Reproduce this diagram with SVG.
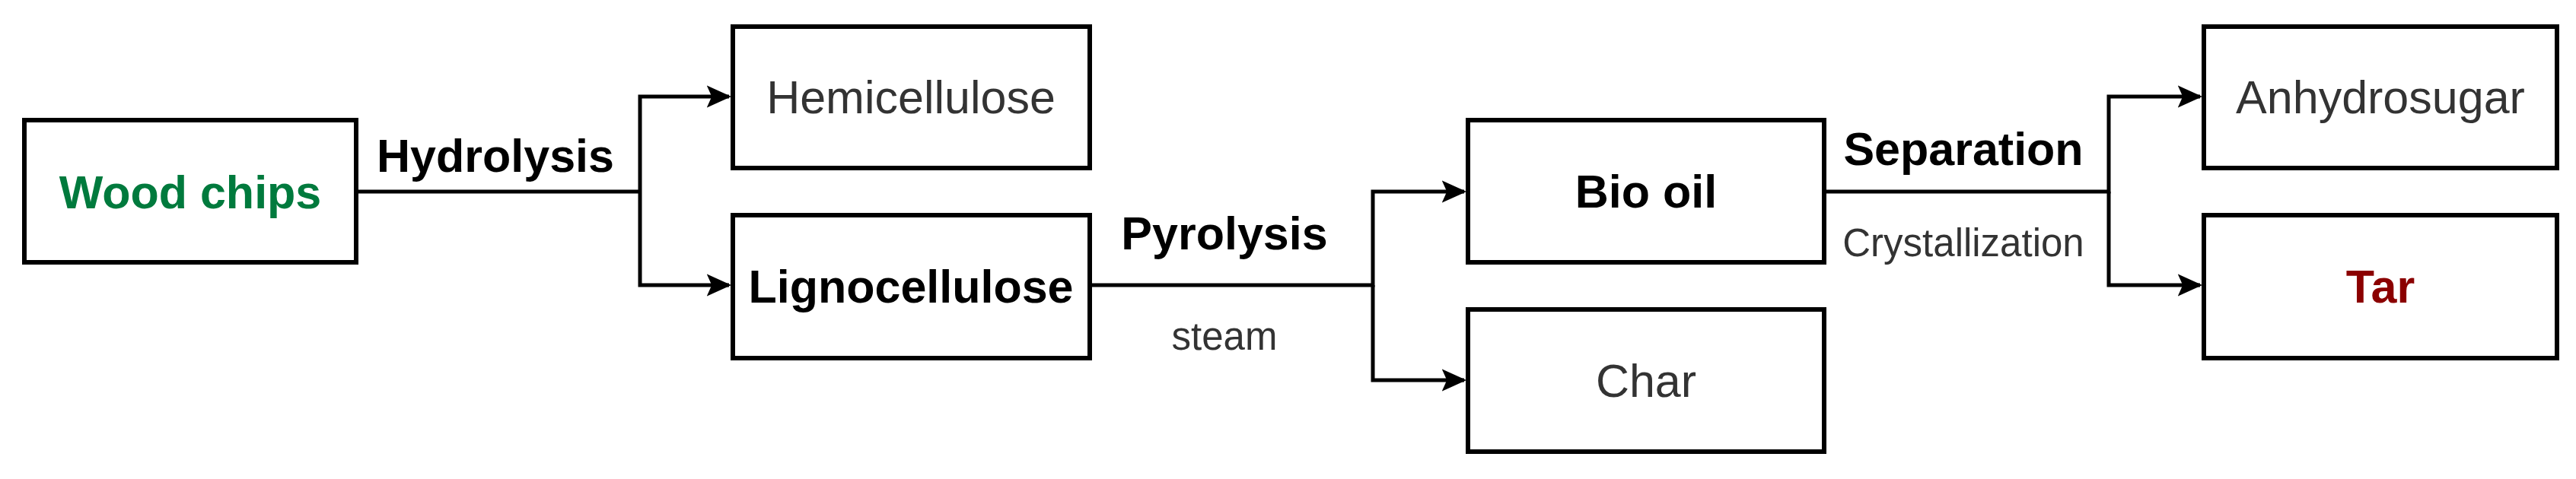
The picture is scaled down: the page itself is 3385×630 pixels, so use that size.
<svg xmlns="http://www.w3.org/2000/svg" width="3385" height="630" viewBox="0 0 3385 630">
<style>
.box{fill:#fff;stroke:#000;stroke-width:6}
.t{font-family:"Liberation Sans",Arial,sans-serif;font-size:61px;text-anchor:middle;fill:#333}
.b{font-weight:bold;fill:#000}
.s{font-family:"Liberation Sans",Arial,sans-serif;font-size:51px;text-anchor:middle;fill:#333}
.c{fill:none;stroke:#000;stroke-width:5}
</style>
<defs><marker id="a" viewBox="0 0 10 10" refX="9" refY="5" markerWidth="6.5" markerHeight="6.5" markerUnits="strokeWidth" orient="auto"><path d="M0,0.5 L10,5 L0,9.5 L2,5 Z" fill="#000"/></marker></defs>
<rect width="3385" height="630" fill="#fff"/>
<g id="connectors">
<path class="c" d="M468,252 H841 M841,252 V127 H958" marker-end="url(#a)"/>
<path class="c" d="M841,252 V375 H958" marker-end="url(#a)"/>
<path class="c" d="M1432,375 H1804 V252 H1924" marker-end="url(#a)"/>
<path class="c" d="M1804,375 V500 H1924" marker-end="url(#a)"/>
<path class="c" d="M2397,252 H2771 V127 H2891" marker-end="url(#a)"/>
<path class="c" d="M2771,252 V375 H2891" marker-end="url(#a)"/>
<text class="t b" x="651" y="226">Hydrolysis</text>
<text class="t b" x="1609" y="328">Pyrolysis</text>
<text class="s" x="1609" y="460">steam</text>
<text class="t b" x="2580" y="217">Separation</text>
<text class="s" x="2580" y="337">Crystallization</text>
</g>
<g id="wood"><rect class="box" x="32" y="158" width="436" height="187"/><text class="t b" x="250" y="274" style="fill:#007A3D">Wood chips</text></g>
<g id="hemi"><rect class="box" x="963" y="35" width="469" height="186"/><text class="t" x="1197" y="149">Hemicellulose</text></g>
<g id="ligno"><rect class="box" x="963" y="283" width="469" height="188"/><text class="t b" x="1197" y="398">Lignocellulose</text></g>
<g id="biooil"><rect class="box" x="1929" y="158" width="468" height="187"/><text class="t b" x="2163" y="273">Bio oil</text></g>
<g id="char"><rect class="box" x="1929" y="407" width="468" height="187"/><text class="t" x="2163" y="522">Char</text></g>
<g id="anhydro"><rect class="box" x="2896" y="35" width="464" height="186"/><text class="t" x="3128" y="149">Anhydrosugar</text></g>
<g id="tar"><rect class="box" x="2896" y="283" width="464" height="188"/><text class="t b" x="3128" y="398" style="fill:#8B0000">Tar</text></g>
</svg>
